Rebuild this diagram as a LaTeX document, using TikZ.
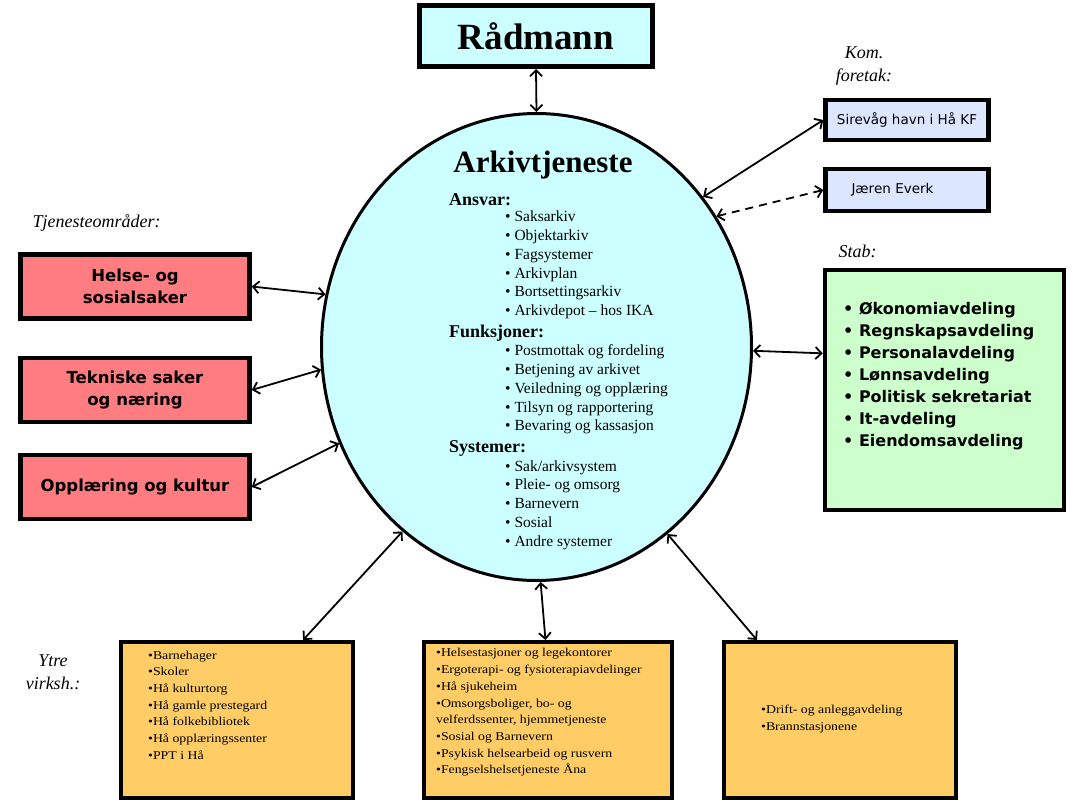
\documentclass[tikz,border=0pt]{standalone}
\usepackage{fontspec}
\setmainfont{Liberation Serif}
\setsansfont{DejaVu Sans}
\newfontfamily\narrowserif[FakeStretch=1.15]{Liberation Serif}
\usetikzlibrary{positioning,shapes.geometric,arrows.meta,calc}

\definecolor{arkivcyan}{RGB}{204,255,255}
\definecolor{tjenred}{RGB}{255,124,128}
\definecolor{foretakblue}{RGB}{221,230,255}
\definecolor{stabgreen}{RGB}{204,255,204}
\definecolor{ytreorange}{RGB}{255,204,102}

\begin{document}
\begin{tikzpicture}[
    x=1pt, y=-1pt,
    box/.style={draw, line width=4.5pt, shape=rectangle, inner sep=0pt, align=center},
    tjbox/.style={box, fill=tjenred, minimum width=229, minimum height=64,
      font=\sffamily\bfseries\fontsize{16.5}{22}\selectfont},
    kfbox/.style={box, fill=foretakblue, minimum width=163, minimum height=40,
      font=\sffamily\fontsize{13.5}{16}\selectfont},
    ytbox/.style={box, line width=4pt, fill=ytreorange, minimum width=232, minimum height=156},
    grp/.style={align=center, font=\itshape\fontsize{18}{23}\selectfont},
    head/.style={anchor=west, inner sep=0pt, font=\bfseries\fontsize{18}{20}\selectfont},
    items/.style={anchor=west, align=left, inner sep=0pt, font=\fontsize{15.5}{18.8}\selectfont},
    small/.style={anchor=west, align=left, inner sep=0pt, font=\narrowserif\fontsize{12}{16.7}\selectfont},
    link/.style={line width=1.8pt, {Straight Barb[length=6pt,width=12pt]}-{Straight Barb[length=6pt,width=12pt]}},
  ]
  \useasboundingbox (0,0) rectangle (1090,809);

  % top and centre
  \node[box, line width=5pt, fill=arkivcyan, minimum width=233, minimum height=61,
    font=\bfseries\fontsize{37}{40}\selectfont] (radmann) at (536,36) {Rådmann};
  \node[ellipse, draw, line width=3pt, fill=arkivcyan, minimum width=430,
    minimum height=467, inner sep=0pt] (arkiv) at (536.5,347) {};

  \node[font=\bfseries\fontsize{31}{34}\selectfont, inner sep=0pt] (arkiv-t) at (543,165) {Arkivtjeneste};
  \node[head] (ansvar) at (449,200) {Ansvar:};
  \node[items] (ansvar-l) at (505,265) {\textbullet\ Saksarkiv\\ \textbullet\ Objektarkiv\\
    \textbullet\ Fagsystemer\\ \textbullet\ Arkivplan\\ \textbullet\ Bortsettingsarkiv\\
    \textbullet\ Arkivdepot -- hos IKA};
  \node[head] (funksj) at (449,333) {Funksjoner:};
  \node[items] (funksj-l) at (505,389.5) {\textbullet\ Postmottak og fordeling\\
    \textbullet\ Betjening av arkivet\\ \textbullet\ Veiledning og opplæring\\
    \textbullet\ Tilsyn og rapportering\\ \textbullet\ Bevaring og kassasjon};
  \node[head] (system) at (449,448) {Systemer:};
  \node[items] (system-l) at (505,505) {\textbullet\ Sak/arkivsystem\\
    \textbullet\ Pleie- og omsorg\\ \textbullet\ Barnevern\\ \textbullet\ Sosial\\
    \textbullet\ Andre systemer};

  % left: tjenesteomraader
  \node[grp, anchor=west] (tjen-lbl) at (29,223) {Tjenesteområder:};
  \node[tjbox] (helse) at (135,286.5) {Helse- og\\ sosialsaker};
  \node[tjbox] (teknisk) at (135,390) {Tekniske saker\\ og næring};
  \node[tjbox] (opplaering) at (135,487) {Opplæring og kultur};

  % right: foretak and stab
  \node[grp] (kf-lbl) at (864,66.5) {Kom.\\ foretak:};
  \node[kfbox] (sirevag) at (907,120) {Sirevåg havn i Hå KF};
  \node[kfbox, minimum height=42, text width=163, align=left] (jaeren) at (907,190)
    {\hspace*{26pt}Jæren Everk\\[6pt]};
  \node[grp, anchor=west] (stab-lbl) at (835,251) {Stab:};
  \node[box, fill=stabgreen, minimum width=239, minimum height=240] (stab) at (944.5,390) {};
  \node[anchor=west, align=left, inner sep=0pt,
    font=\sffamily\bfseries\fontsize{16}{22}\selectfont] (stab-l) at (843,376)
    {\textbullet\ Økonomiavdeling\\ \textbullet\ Regnskapsavdeling\\ \textbullet\ Personalavdeling\\
    \textbullet\ Lønnsavdeling\\ \textbullet\ Politisk sekretariat\\ \textbullet\ It-avdeling\\
    \textbullet\ Eiendomsavdeling};

  % bottom: ytre virksomheter
  \node[grp] (ytre-lbl) at (53,672) {Ytre\\ virksh.:};
  \node[ytbox] (ytre-a) at (237,720) {};
  \node[ytbox, minimum width=248] (ytre-b) at (548,720) {};
  \node[ytbox] (ytre-c) at (839.5,720) {};
  \node[small] (ytre-a-l) at (148,705) {\textbullet Barnehager\\ \textbullet Skoler\\
    \textbullet Hå kulturtorg\\ \textbullet Hå gamle prestegard\\ \textbullet Hå folkebibliotek\\
    \textbullet Hå opplæringssenter\\ \textbullet PPT i Hå};
  \node[small] (ytre-b-l) at (436,712.5) {\textbullet Helsestasjoner og legekontorer\\
    \textbullet Ergoterapi- og fysioterapiavdelinger\\ \textbullet Hå sjukeheim\\
    \textbullet Omsorgsboliger, bo- og\\ velferdssenter, hjemmetjeneste\\
    \textbullet Sosial og Barnevern\\ \textbullet Psykisk helsearbeid og rusvern\\
    \textbullet Fengselshelsetjeneste Åna};
  \node[small] (ytre-c-l) at (761,719) {\textbullet Drift- og anleggavdeling\\
    \textbullet Brannstasjonene};

  % connectors
  \draw[link] (radmann.south) -- (arkiv.north);
  \draw[link] (helse.east) -- (arkiv.166.7);
  \draw[link] (teknisk.east) -- (arkiv.186.7);
  \draw[link] (opplaering.east) -- (arkiv.206.3);
  \draw[link] (sirevag.west) -- (arkiv.42.2);
  \draw[link, dash pattern=on 8pt off 6pt] (jaeren.west) -- (arkiv.36.9);
  \draw[link] ($(stab.north west)!0.35!(stab.south west)$) -- (arkiv.-1.6);
  \draw[link] ($(ytre-a.north west)!0.78!(ytre-a.north east)$) -- (arkiv.234.3);
  \draw[link] ($(ytre-b.north west)!0.49!(ytre-b.north east)$) -- (arkiv.271);
  \draw[link] ($(ytre-c.north west)!0.15!(ytre-c.north east)$) -- (arkiv.305.7);
\end{tikzpicture}
\end{document}
